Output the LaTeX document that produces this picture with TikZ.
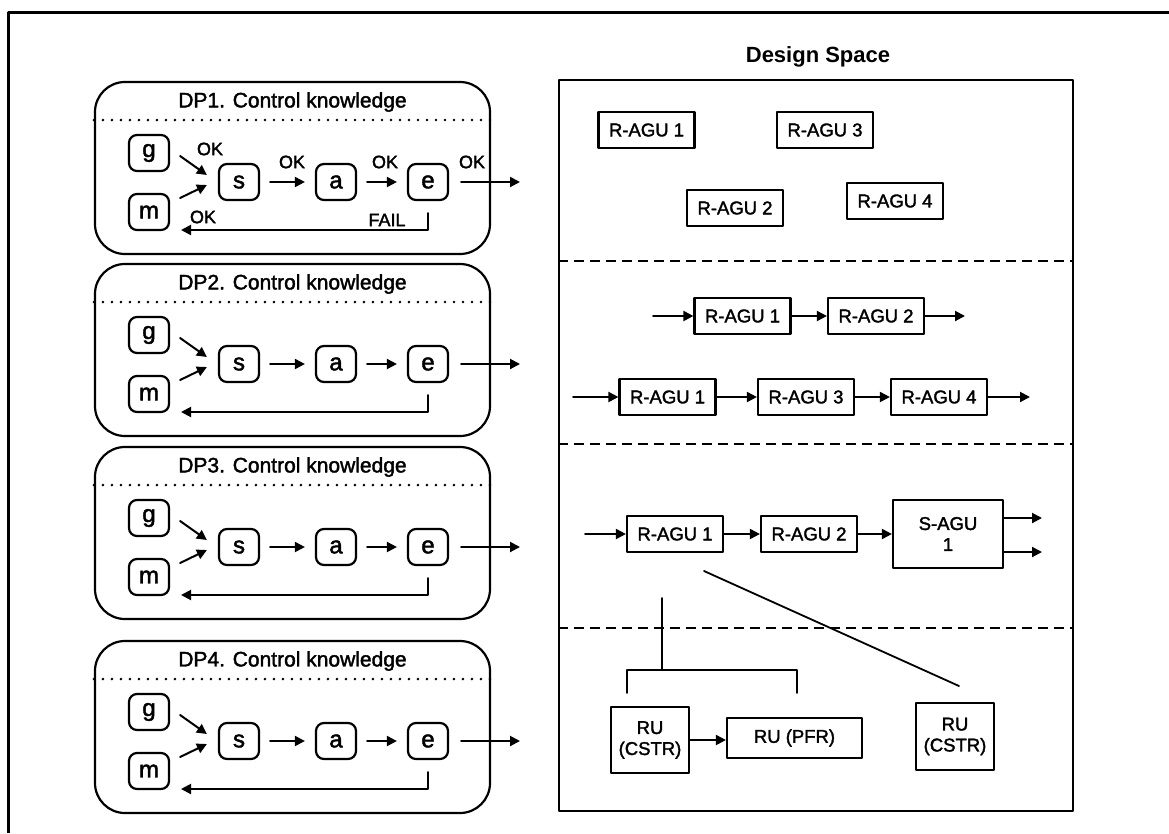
\documentclass[tikz,border=0pt]{standalone}
\usepackage{fontspec}
\setmainfont{Liberation Sans}
\newfontfamily\scanfont{Liberation Sans}[FakeBold=1.8]
\usetikzlibrary{arrows.meta}

\begin{document}
\begin{tikzpicture}[line cap=round,line join=round,>={Triangle[length=10pt,width=10pt]},x=1pt,y=-1pt,
    panel/.style={draw, line width=2.2pt, rounded corners=30pt, minimum width=395pt, minimum height=172pt},
    letter/.style={draw, line width=2.2pt, rounded corners=8pt, minimum width=40pt, minimum height=36pt, font=\scanfont\fontsize{24}{26}\selectfont},
    unit/.style={draw, line width=2.2pt, minimum width=96pt, minimum height=36pt, align=center, font=\scanfont\fontsize{18.5}{21}\selectfont},
    lbl/.style={font=\scanfont\fontsize{18}{20}\selectfont},
    flow/.style={->, line width=2pt},
    dots/.style={line width=2.8pt, dash pattern=on 0pt off 9pt},
    split/.style={line width=2pt, line cap=butt, dash pattern=on 10pt off 6pt}]
    \useasboundingbox (0,0) rectangle (1169,833);

    % outer frame
    \draw [line width=3pt, line cap=butt] (8,833) -- (8,12) -- (1169,12);

    % control knowledge panels
    \foreach \p/\t in {1/82, 2/264, 3/447, 4/641} {
        \node [panel] (dp\p) at (292.5,\t+86) {};
        \node [font=\scanfont\fontsize{21}{23}\selectfont] (title\p) at (292.5,\t+20) {DP\p. Control knowledge};
        \draw [dots] (dp\p.west |- 0,\t+38) -- (dp\p.east |- 0,\t+38);

        \node [letter] (g\p) at (149,\t+71) {g};
        \node [letter] (m\p) at (149,\t+130) {m};
        \node [letter] (s\p) at (239,\t+100) {s};
        \node [letter] (a\p) at (336,\t+100) {a};
        \node [letter] (e\p) at (428,\t+100) {e};
        \coordinate (out\p) at (520,\t+100);
        \coordinate (back\p) at (181,\t+148);

        \draw [flow] ([xshift=10pt,yshift=-3pt]g\p.east) -- ([xshift=-11pt,yshift=7pt]s\p.west);
        \draw [flow] ([xshift=10pt,yshift=14pt]m\p.east) -- ([xshift=-11pt,yshift=-3pt]s\p.west);
        \draw [flow] ([xshift=10pt]s\p.east) -- ([xshift=-10pt]a\p.west);
        \draw [flow] ([xshift=10pt]a\p.east) -- ([xshift=-10pt]e\p.west);
        \draw [flow] ([xshift=12pt]e\p.east) -- (out\p);
        \draw [flow] ([yshift=-12pt]e\p.south) -- (e\p.south |- back\p) -- (back\p);
    }

    % labels of the first panel
    \node [lbl] (okg) at (210,149) {OK};
    \node [lbl] (okm) at (203,217) {OK};
    \node [lbl] (oks) at (292,162) {OK};
    \node [lbl] (oka) at (385,162) {OK};
    \node [lbl] (oke) at (472,162) {OK};
    \node [lbl] (fail) at (387,220) {FAIL};

    % design space
    \node [font=\bfseries\fontsize{22}{24}\selectfont] (dstitle) at (818,57) {Design Space};
    \node [draw, line width=2.8pt, minimum width=514pt, minimum height=731pt] (space) at (816,445.5) {};
    \draw [split] (space.west |- 0,261) -- (space.east |- 0,261);
    \draw [split] (space.west |- 0,444) -- (space.east |- 0,444);
    \draw [split] (space.west |- 0,628) -- (space.east |- 0,628);

    % level 1
    \node [unit] (ra1) at (646.5,130) {R-AGU 1};
    \node [unit] (ra3) at (825,130) {R-AGU 3};
    \node [unit] (ra2) at (735,208) {R-AGU 2};
    \node [unit] (ra4) at (895,201) {R-AGU 4};

    % level 2
    \coordinate (inb) at (653,316);
    \node [unit] (rb1) at (742.5,316) {R-AGU 1};
    \node [unit] (rb2) at (876,316) {R-AGU 2};
    \coordinate (outb) at (965,316);
    \draw [flow] (inb) -- (rb1);
    \draw [flow] (rb1) -- (rb2);
    \draw [flow] (rb2) -- (outb);

    \coordinate (inc) at (573,397);
    \node [unit] (rc1) at (667.5,397) {R-AGU 1};
    \node [unit] (rc3) at (806,397) {R-AGU 3};
    \node [unit] (rc4) at (939,397) {R-AGU 4};
    \coordinate (outc) at (1030,397);
    \draw [flow] (inc) -- (rc1);
    \draw [flow] (rc1) -- (rc3);
    \draw [flow] (rc3) -- (rc4);
    \draw [flow] (rc4) -- (outc);

    % level 3
    \coordinate (ind) at (585,534);
    \node [unit] (rd1) at (675,534) {R-AGU 1};
    \node [unit] (rd2) at (809,534) {R-AGU 2};
    \node [unit, minimum width=110pt, minimum height=68pt] (sagu) at (948,534) {S-AGU\\1};
    \coordinate (outd1) at (1042,518);
    \coordinate (outd2) at (1042,552);
    \draw [flow] (ind) -- (rd1);
    \draw [flow] (rd1) -- (rd2);
    \draw [flow] (rd2) -- (sagu);
    \draw [flow] (sagu.east |- outd1) -- (outd1);
    \draw [flow] (sagu.east |- outd2) -- (outd2);

    % level 4
    \node [unit, minimum width=78pt, minimum height=66pt] (ru1) at (650,740) {RU\\(CSTR)};
    \node [unit, minimum width=135pt, minimum height=40pt] (pfr) at (794.5,738) {RU (PFR)};
    \node [unit, minimum width=78pt, minimum height=67pt] (ru2) at (955,736.5) {RU\\(CSTR)};
    \draw [flow] (ru1) -- (ru1 -| pfr.west);

    % decomposition lines
    \coordinate (stem) at (662,598);
    \coordinate (fork) at (662,670);
    \coordinate (leftleg) at (627,693);
    \coordinate (rightleg) at (797,693);
    \draw [line width=1.8pt] (stem) -- (fork);
    \draw [line width=1.8pt] (leftleg) |- (fork) -| (rightleg);
    \coordinate (slantA) at (704,571);
    \coordinate (slantB) at (959,686);
    \draw [line width=1.8pt] (slantA) -- (slantB);
\end{tikzpicture}
\end{document}
